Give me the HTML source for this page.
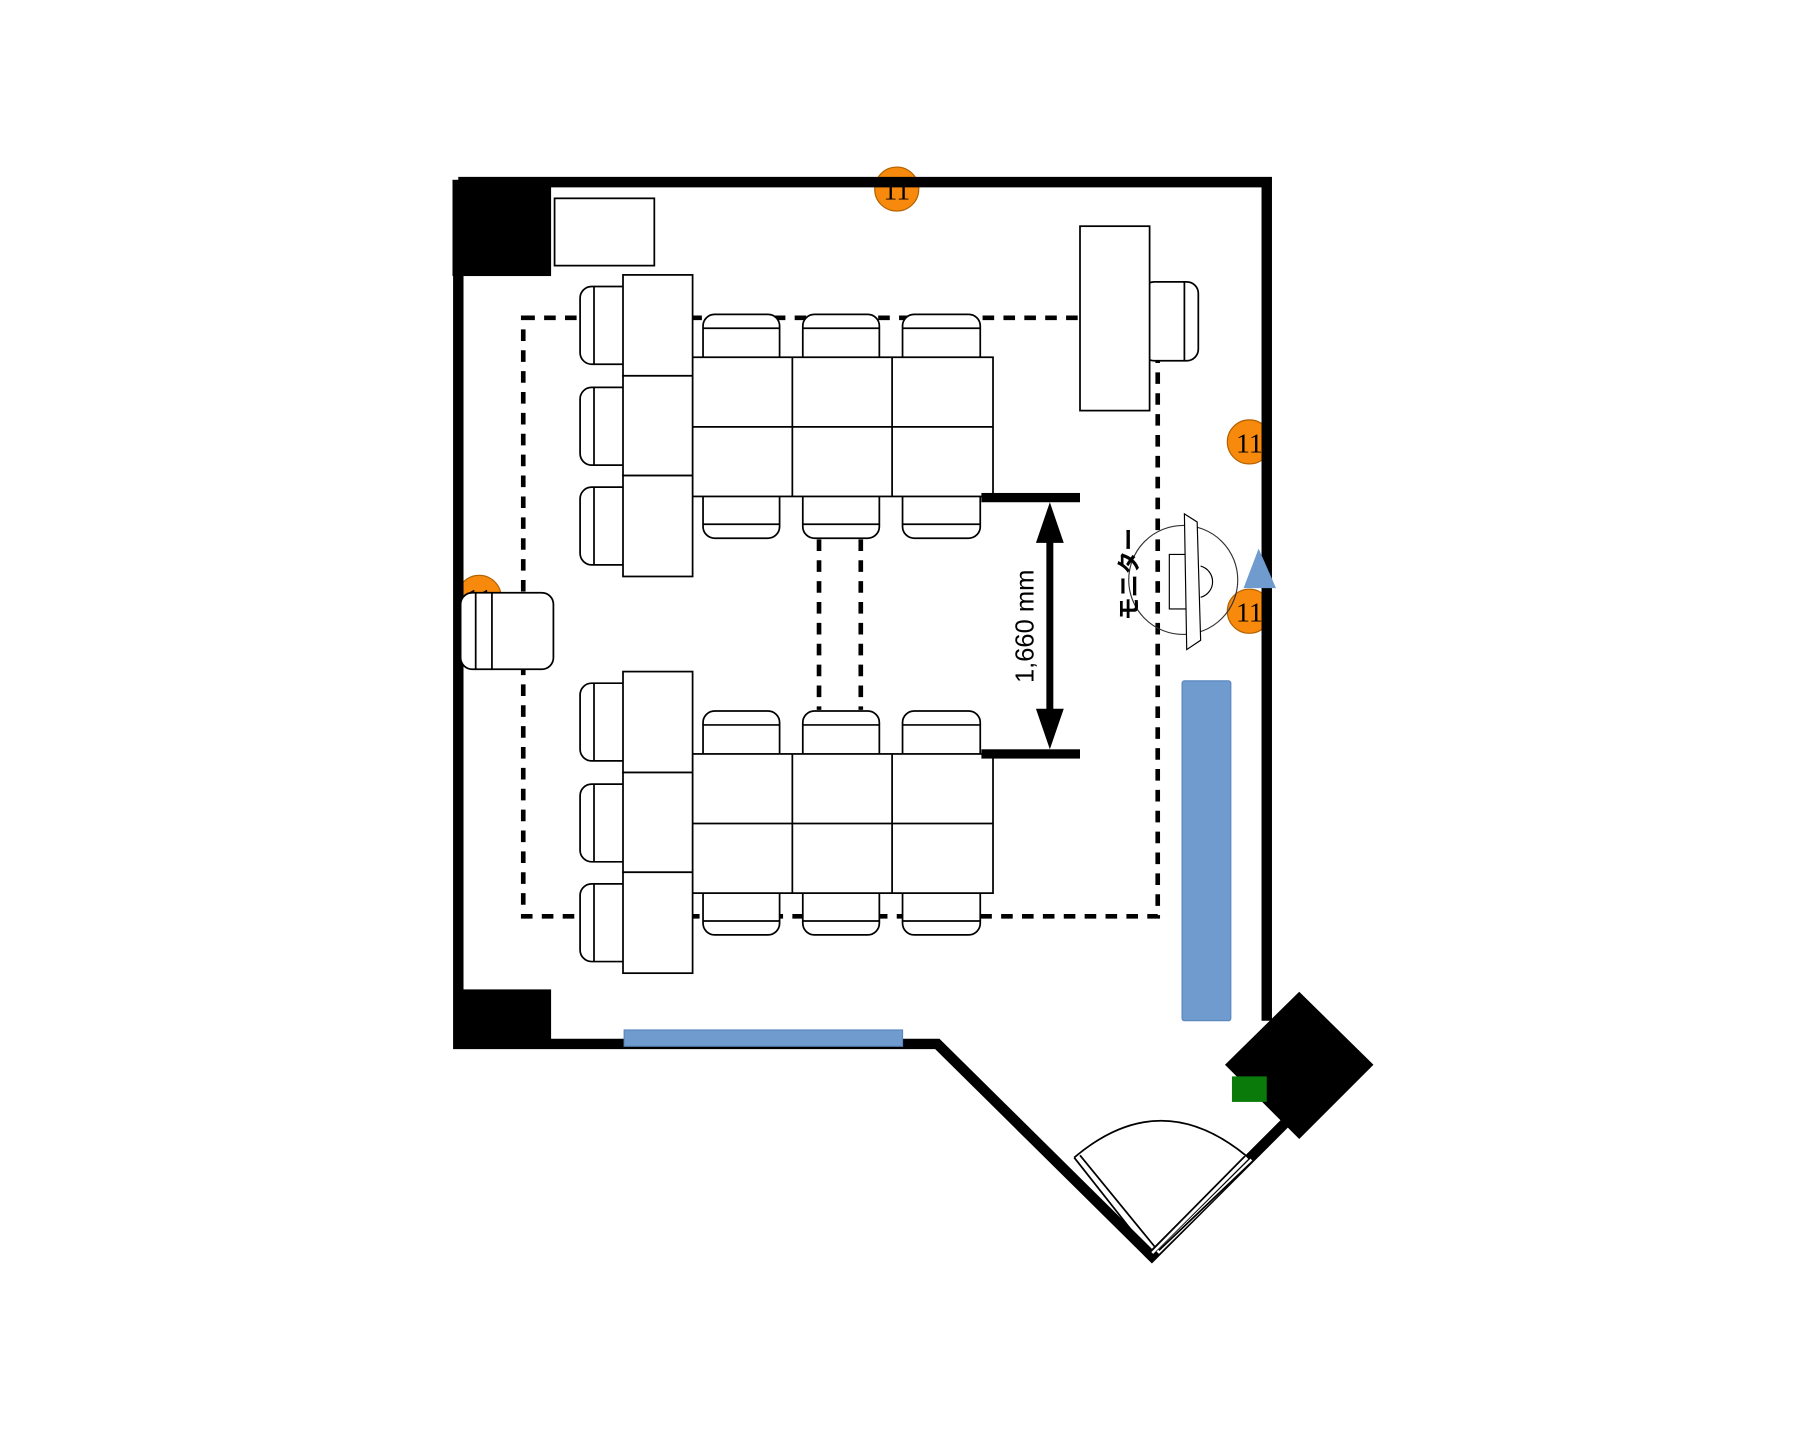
<!DOCTYPE html>
<html><head><meta charset="utf-8"><style>
html,body{margin:0;padding:0;background:#fff;}
svg{display:block;}
</style></head><body>
<svg width="1819" height="1429" viewBox="0 0 1568 1232" xmlns="http://www.w3.org/2000/svg">
<rect width="1568" height="1232" fill="#fff"/>
<g font-family="Liberation Serif, serif" font-size="24" text-anchor="middle">
<circle cx="773" cy="163" r="19" fill="#f7890c" stroke="#b36200" stroke-width="1"/>
<text x="773" y="172">11</text>
<circle cx="1077" cy="381" r="19" fill="#f7890c" stroke="#b36200" stroke-width="1"/>
<text x="1077" y="390">11</text>
<circle cx="1077" cy="527" r="19" fill="#f7890c" stroke="#b36200" stroke-width="1"/>
<text x="1077" y="536">11</text>
<circle cx="413" cy="515" r="19" fill="#f7890c" stroke="#b36200" stroke-width="1"/>
<text x="413" y="524">11</text>
</g>
<g fill="none" stroke="#000" stroke-width="9" stroke-linejoin="miter">
<path d="M395 157 H1092 V880"/>
<path d="M395 157 V900 H808 L993 1083 L1110 966"/>
</g>
<rect x="390" y="155" width="85" height="83" fill="#000"/>
<rect x="395" y="853" width="80" height="44" fill="#000"/>
<polygon points="1120,855 1184,918 1120,982 1056,918" fill="#000"/>
<rect x="1062" y="928" width="30" height="22" fill="#0a7a0a"/>
<g fill="none" stroke="#000" stroke-width="1.5">
<path d="M926 998 Q1000 935 1075 997"/>
<path d="M993 1083 L926 998 M998 1078 L931 996"/>
<path d="M993 1080 L1075 998 M998 1080 L1079 1000" stroke="#fff" stroke-width="3"/>
<path d="M991 1080 L1073 997 M999 1078 L1080 1001"/>
</g>
<rect x="538" y="888" width="240" height="14" fill="#6f9bcf" stroke="#5a87bd"/>
<rect x="1019" y="587" width="42" height="293" rx="2" fill="#6f9bcf" stroke="#5a87bd"/>
<g fill="none" stroke="#000" stroke-width="4" stroke-dasharray="10 8">
<rect x="451" y="274" width="547" height="516"/>
<path d="M706 465 V612 M742 465 V612"/>
</g>
<rect x="478" y="171" width="86" height="58" fill="#fff" stroke="#000" stroke-width="1.5"/>
<g fill="#fff" stroke="#000" stroke-width="1.5" id="grp">
<rect x="500" y="247" width="48" height="67" rx="10"/><path d="M512 247 V314"/>
<rect x="500" y="334" width="48" height="67" rx="10"/><path d="M512 334 V401"/>
<rect x="500" y="420" width="48" height="67" rx="10"/><path d="M512 420 V487"/>
<rect x="606" y="271" width="66" height="48" rx="10"/><path d="M606 283 H672"/>
<rect x="692" y="271" width="66" height="48" rx="10"/><path d="M692 283 H758"/>
<rect x="778" y="271" width="67" height="48" rx="10"/><path d="M778 283 H845"/>
<rect x="606" y="418" width="66" height="46" rx="10"/><path d="M606 452 H672"/>
<rect x="692" y="418" width="66" height="46" rx="10"/><path d="M692 452 H758"/>
<rect x="778" y="418" width="67" height="46" rx="10"/><path d="M778 452 H845"/>
<rect x="597" y="308" width="259" height="120"/>
<path d="M597 368 H856 M683 308 V428 M769 308 V428"/>
<rect x="537" y="237" width="60" height="87"/>
<rect x="537" y="324" width="60" height="86"/>
<rect x="537" y="410" width="60" height="87"/>
</g>
<use href="#grp" transform="translate(0,342)"/>
<g fill="#fff" stroke="#000" stroke-width="1.5">
<rect x="397" y="511" width="80" height="66" rx="10"/>
<path d="M410 511 V577 M424 511 V577"/>
<rect x="985" y="243" width="48" height="68" rx="10"/><path d="M1021 243 V311"/>
<rect x="931" y="195" width="60" height="159"/>
</g>
<rect x="846" y="425" width="85" height="8" fill="#000"/>
<rect x="846" y="646" width="85" height="8" fill="#000"/>
<rect x="902" y="455" width="6" height="170" fill="#000"/>
<polygon points="905,433 893,468 917,468" fill="#000"/>
<polygon points="905,646 893,611 917,611" fill="#000"/>
<text transform="translate(891,540) rotate(-90)" font-family="Liberation Sans, sans-serif" font-size="22" text-anchor="middle">1,660 mm</text>
<g fill="#fff" stroke="#000" stroke-width="1">
<circle cx="1020" cy="500" r="47" fill="none" stroke="#333"/>
<rect x="1008" y="478" width="15" height="47"/>
<path d="M1035 488 A14 14 0 0 1 1035 515"/>
<polygon points="1021,443 1032,450 1035,552 1023,560"/>
</g>
<text transform="translate(980,495) rotate(-90)" font-family="Liberation Sans, 'Noto Sans CJK JP', sans-serif" font-size="20" font-weight="bold" text-anchor="middle">モニター</text>
<polygon points="1072,507 1085,473 1100,507" fill="#6f9bcf"/>
</svg>
</body></html>
